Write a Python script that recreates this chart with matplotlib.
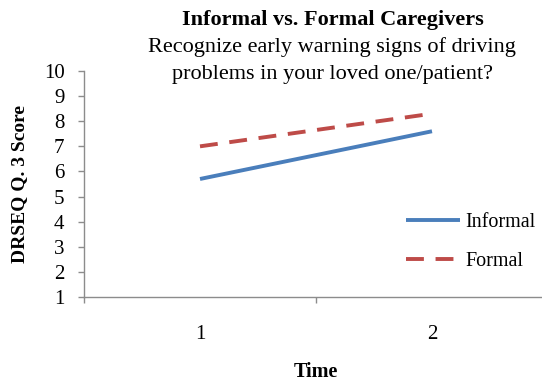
import matplotlib
matplotlib.use("Agg")
import matplotlib.pyplot as plt

# Mean DRSEQ Q.3 scores at each time point
time_points = [1, 2]
informal = [5.7, 7.6]
formal = [7.0, 8.3]
y_ticks = list(range(1, 11))

plt.rcParams['font.family'] = ['Liberation Serif', 'DejaVu Serif']

fig = plt.figure(figsize=(5.42, 3.81), dpi=100)
ax = fig.add_axes([84 / 542, 84 / 381, 464 / 542, 226 / 381])

ax.plot(time_points, informal, color='#4a7ebb', lw=2.8, label='Informal',
        solid_capstyle='butt')
ax.plot(time_points, formal, color='#be4b48', lw=2.8, label='Formal',
        dashes=(4.6, 3.0), dash_capstyle='butt')

ax.set_xlim(0.5, 2.5)
ax.set_ylim(1, 10)
ax.set_yticks(y_ticks)
ax.set_xticks(time_points)
ax.set_xticks([0.5, 1.5, 2.5], minor=True)
ax.tick_params(axis='x', which='major', length=0, pad=20, labelsize=15)
ax.tick_params(axis='x', which='minor', length=4, color='#8c8c8c', width=1)
ax.tick_params(axis='y', length=4, color='#8c8c8c', width=1, pad=10, labelsize=15)

for side in ('top', 'right'):
    ax.spines[side].set_visible(False)
for side in ('left', 'bottom'):
    ax.spines[side].set_color('#8c8c8c')
    ax.spines[side].set_linewidth(1)

ax.set_ylabel('DRSEQ Q. 3 Score', fontsize=14, fontweight='bold', labelpad=11)
ax.set_xlabel('Time', fontsize=14.5, fontweight='bold', labelpad=13)

fig.text(333 / 542, 1 - 20 / 381, 'Informal vs. Formal Caregivers',
         ha='center', va='center', fontsize=16, fontweight='bold')
fig.text(332 / 542, 1 - 47 / 381, 'Recognize early warning signs of driving',
         ha='center', va='center', fontsize=16)
fig.text(332 / 542, 1 - 75 / 381, 'problems in your loved one/patient?',
         ha='center', va='center', fontsize=16)

ax.legend(loc='upper left', bbox_to_anchor=(314 / 464, 1 - 134 / 226),
          frameon=False, fontsize=14.5, handlelength=2.7, handletextpad=0.25,
          labelspacing=1.0, borderaxespad=0)

fig.savefig('out.png', dpi=100)
